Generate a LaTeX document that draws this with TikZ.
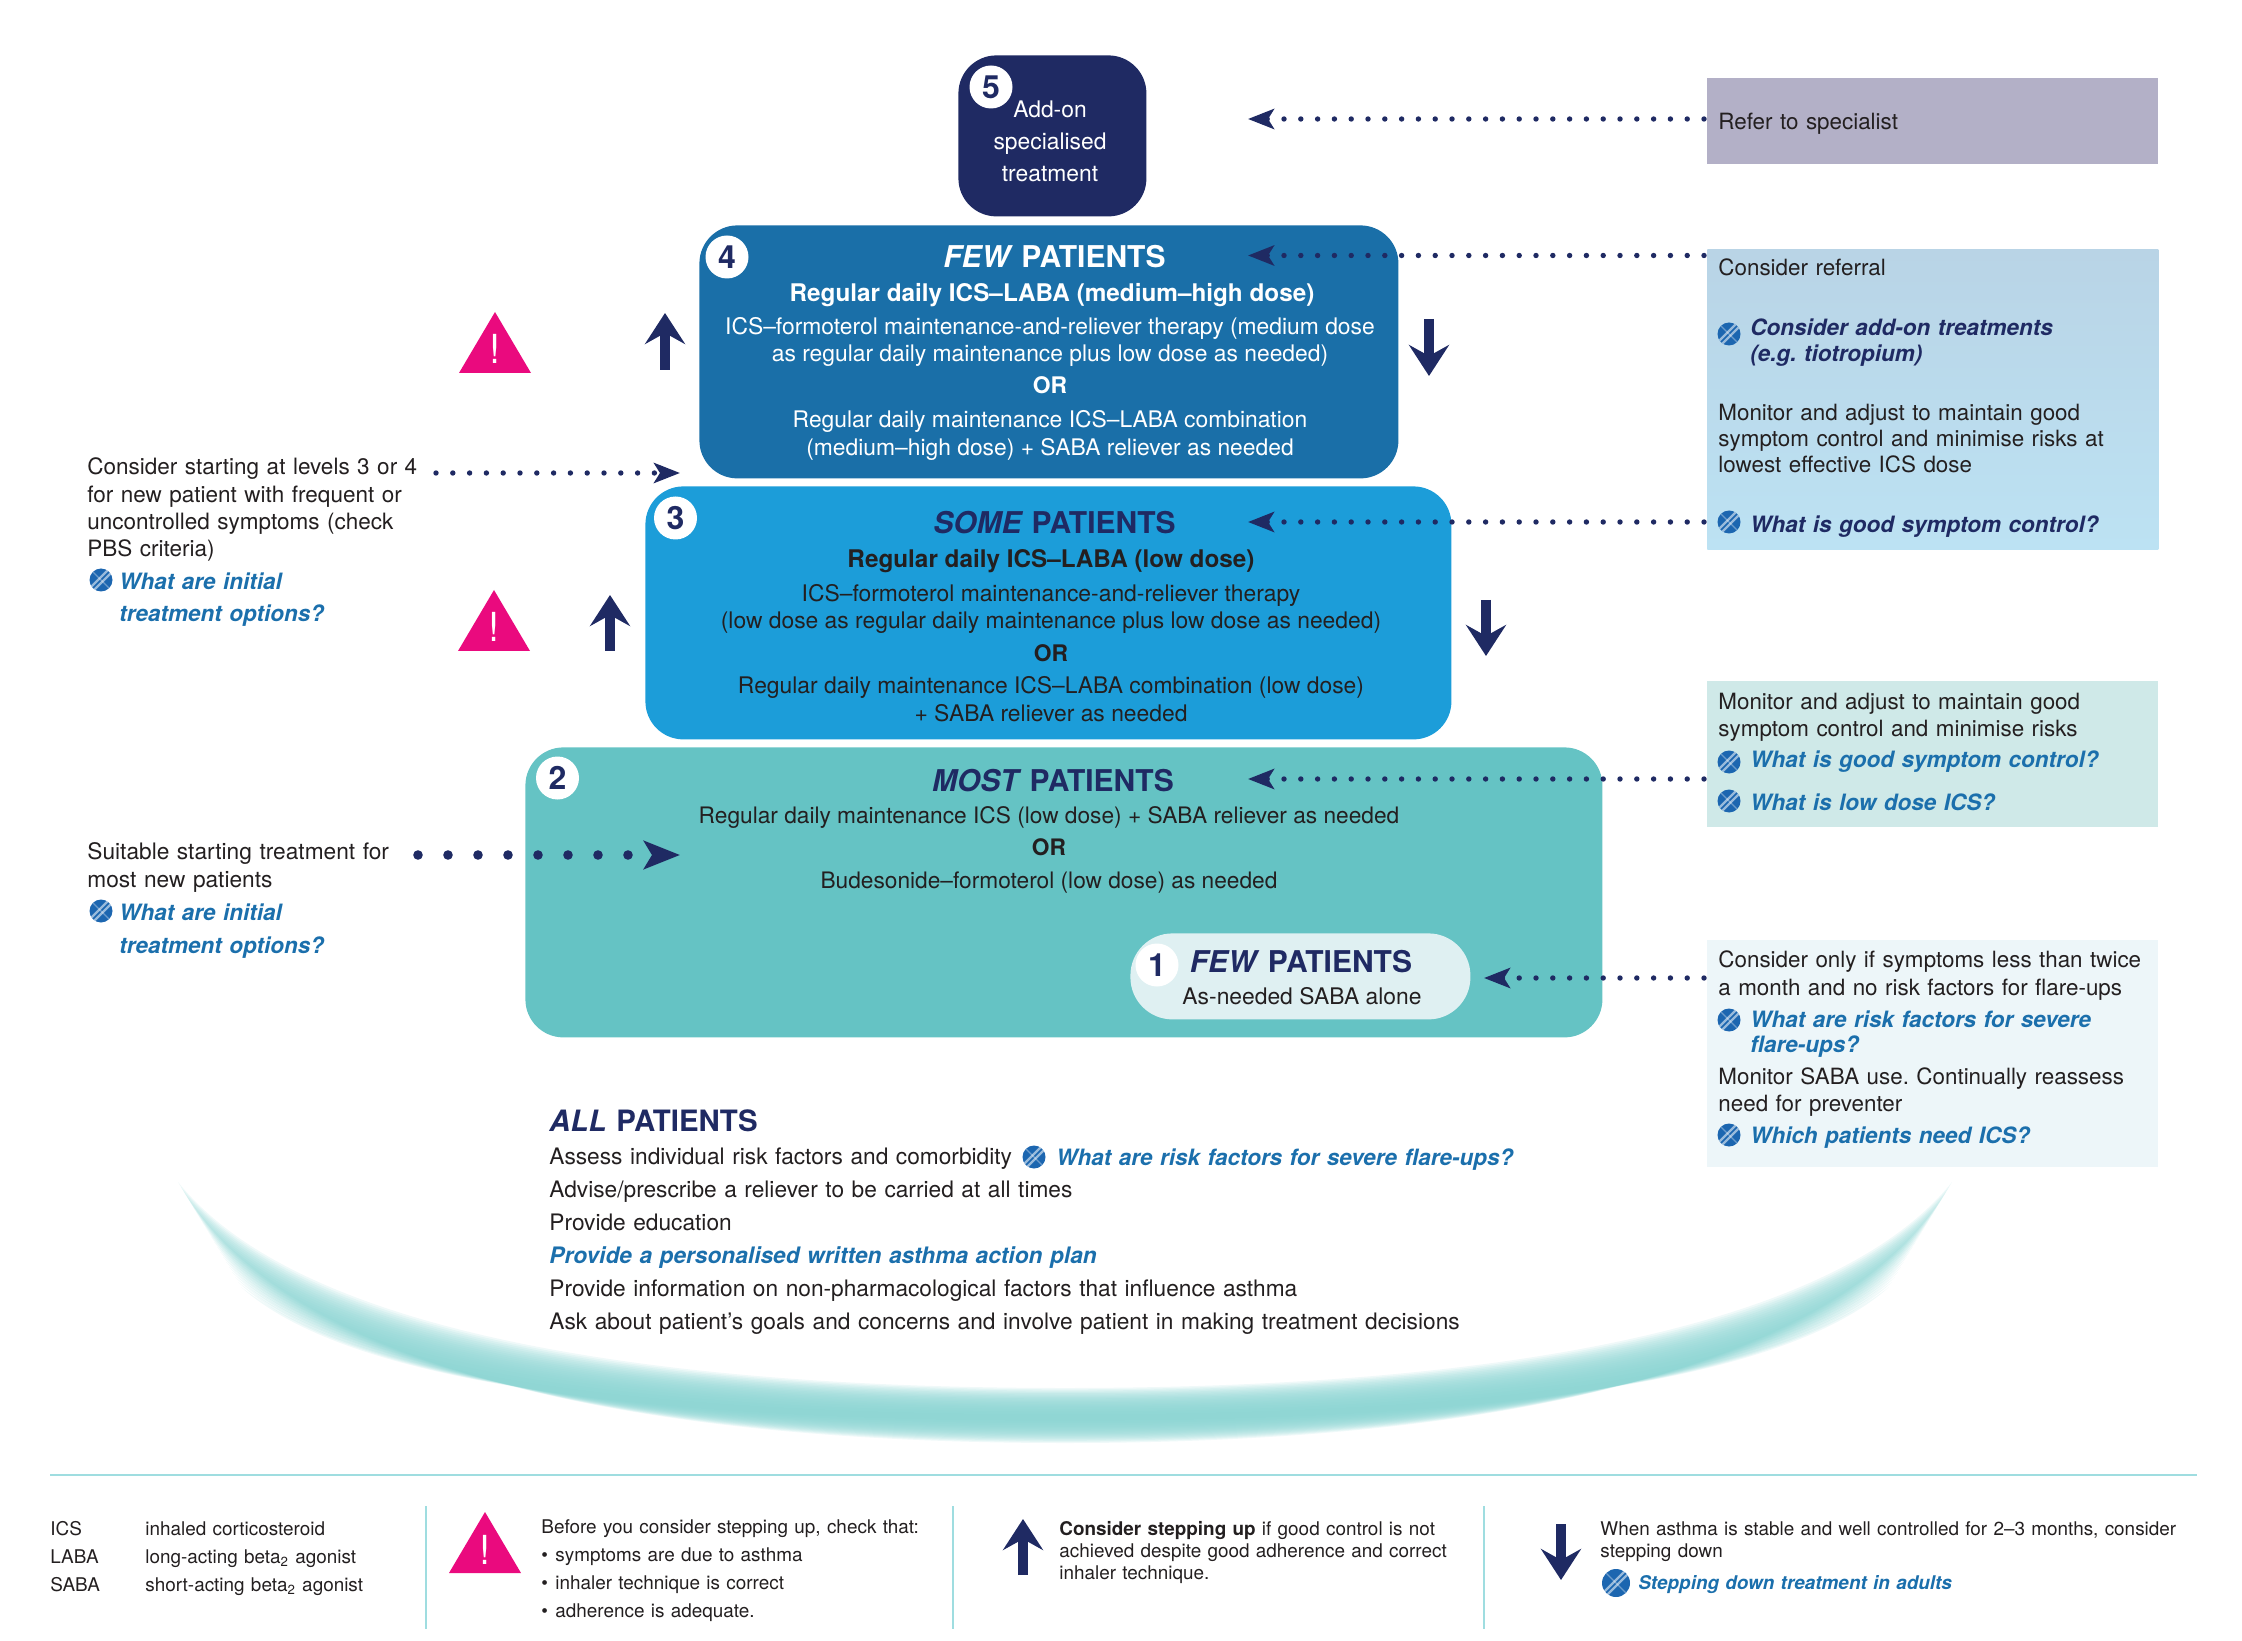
\documentclass[tikz,border=0pt]{standalone}
\usepackage{fontspec}
\setmainfont{TeX Gyre Heros}
\usetikzlibrary{arrows.meta,calc,positioning}
\definecolor{navy}{HTML}{1F2A63}
\definecolor{ink}{HTML}{231F20}
\definecolor{linkblue}{HTML}{1B6FAC}
\definecolor{globeblue}{HTML}{1C66B0}
\definecolor{alertpink}{HTML}{EA0A7E}
\definecolor{rule}{HTML}{9FDDE0}
\definecolor{level5}{HTML}{1F2A63}
\definecolor{level4}{HTML}{1A6FA8}
\definecolor{level3}{HTML}{1C9DD9}
\definecolor{level2}{HTML}{65C3C4}
\definecolor{level1}{HTML}{DFF0F2}
\definecolor{crescent}{HTML}{8AD4D2}
\tikzset{
	size/.style 2 args={minimum width=#1*0.5pt, minimum height=#2*0.5pt},
	stepbox/.style={rectangle, rounded corners=19pt, anchor=north west, inner sep=0pt},
	sidepanel/.style={rectangle, anchor=north west, inner sep=0pt},
	txt/.style={font=\fontsize{11.35}{#1}\selectfont, text=ink, text width=800pt,
		align=left, anchor=base west, inner sep=0pt},
	ptxt/.style={txt=#1, font=\fontsize{11.2}{#1}\selectfont},
	ctr/.style={font=\fontsize{11.42}{#1}\selectfont, text=ink, text width=400pt,
		align=flush center, anchor=base, inner sep=0pt},
	lnk/.style={txt=#1, font=\fontsize{11.25}{#1}\selectfont\bfseries\itshape, text=linkblue},
	small/.style={txt=#1, font=\fontsize{9.45}{#1}\selectfont},
	head/.style={ctr=18pt, font=\fontsize{15}{18}\selectfont\bfseries, text=navy},
	sub/.style={ctr=14pt, font=\fontsize{12.15}{14}\selectfont\bfseries},
	badge/.style={circle, fill=white, minimum size=21.5pt, inner sep=0pt, text=navy,
		font=\fontsize{16}{18}\selectfont\bfseries},
	globe/.style={circle, fill=globeblue, minimum size=11.5pt, inner sep=0pt,
		path picture={
			\draw[white, opacity=.55, line width=1.2pt] ([xshift=-1.5pt]path picture bounding box.south west) -- ([xshift=-1.5pt]path picture bounding box.north east);
			\draw[white, opacity=.55, line width=1.2pt] ([xshift=1.5pt]path picture bounding box.south west) -- ([xshift=1.5pt]path picture bounding box.north east);
			\draw[white, opacity=.35, line width=.6pt] (path picture bounding box.north west) -- (path picture bounding box.south east);
		}},
	dotar/.style={draw=navy, line width=2.7pt, line cap=round, dash pattern=on 0pt off 8.4pt,
		-{Stealth[length=13pt, width=10pt, inset=3pt]}},
	dotbig/.style={draw=navy, line width=4.8pt, line cap=round, dash pattern=on 0pt off 15pt,
		-{Stealth[length=18pt, width=14pt, inset=4pt]}},
	stepar/.style={draw=navy, line width=5pt, -{Stealth[length=15.5pt, width=20pt, inset=5.5pt]}},
	alert/.pic={
		\fill[alertpink] (-36,61) -- (0,0) -- (36,61) -- cycle;
		\node[anchor=base, inner sep=0pt, text=white, font=\fontsize{20}{20}\selectfont] (-bang) at (0,52) {!};
	}
}
\begin{document}
\frenchspacing
\begin{tikzpicture}[x=0.5pt,y=-0.5pt]
	\useasboundingbox (0,0) rectangle (2242,1641);
	% crescent under the list
	\foreach \k in {0,...,21} {
		\pgfmathsetmacro{\outer}{1443-\k*1.1}
		\pgfmathsetmacro{\inner}{1388+\k*1.3}
		\pgfmathsetmacro{\tipx}{178+\k*3}
		\pgfmathsetmacro{\tipy}{1182+\k*5}
		\pgfmathsetmacro{\tipr}{2130-\tipx}
		\pgfmathsetmacro{\outc}{\tipy+(\outer-\tipy)*0.74}
		\pgfmathsetmacro{\inc}{\tipy+(\inner-\tipy)*0.73}
		\fill[crescent, opacity=.13] (\tipx,\tipy)
			.. controls (\tipx+110,\outc) and (650,\outer) .. (1065,\outer)
			.. controls (1480,\outer) and (\tipr-110,\outc) .. (\tipr,\tipy)
			.. controls (\tipr-120,\inc) and (1480,\inner) .. (1065,\inner)
			.. controls (650,\inner) and (\tipx+120,\inc) .. (\tipx,\tipy) -- cycle;
	}
	% the five levels
	\node[stepbox, fill=level5, size={188}{161}] (box5) at (958,55) {};
	\node[stepbox, fill=level4, size={699}{253}] (box4) at (699,225) {};
	\node[stepbox, fill=level3, size={806}{253}] (box3) at (645,486) {};
	\node[stepbox, fill=level2, size={1077}{290}] (box2) at (525,747) {};
	\node[stepbox, fill=level1, size={340}{86}, rounded corners=21pt] (box1) at (1130,933) {};
	% panels on the right
	\node[sidepanel, fill={rgb,255:red,179;green,176;blue,199}, size={451}{86}] (refer) at (1707,78) {};
	\node[sidepanel, top color={rgb,255:red,185;green,212;blue,230}, bottom color={rgb,255:red,188;green,226;blue,243}, size={451}{300}] (referral) at (1707,249) {};
	\node[sidepanel, fill={rgb,255:red,207;green,233;blue,232}, size={451}{146}] (lowdose) at (1707,681) {};
	\node[sidepanel, fill={rgb,255:red,237;green,246;blue,249}, size={451}{227}] (onlyif) at (1707,940) {};
	% number badges
	\foreach \bx/\by/\bn in {991/87/5, 727/257/4, 675.5/518/3, 557.5/778/2, 1157/965/1}
		\node[badge] (num\bn) at (\bx,\by) {\bn};
	% text in the levels
	\node[ctr=16pt, text=white] (box5txt) at (1050,118) {Add-on\\specialised\\treatment};
	\node[head, text=white] (few4) at (1054.5,268) {\textit{FEW} PATIENTS};
	\node[sub, text=white] (sub4) at (1052,302) {Regular daily ICS–LABA (medium–high dose)};
	\node[ctr=13.75pt, text=white] (box4txt) at (1050,334.5) {ICS–formoterol maintenance-and-reliever therapy (medium dose\\as regular daily maintenance plus low dose as needed)\\[2.2pt]\textbf{OR}\\[3.25pt]Regular daily maintenance ICS–LABA combination\\(medium–high dose) + SABA reliever as needed};
	\node[head] (some3) at (1054.5,534) {\textit{SOME} PATIENTS};
	\node[sub] (sub3) at (1051,568) {Regular daily ICS–LABA (low dose)};
	\node[ctr=13.75pt] (box3txt) at (1051,601.5) {ICS–formoterol maintenance-and-reliever therapy\\(low dose as regular daily maintenance plus low dose as needed)\\[2.75pt]\textbf{OR}\\[2.25pt]Regular daily maintenance ICS–LABA combination (low dose)\\+ SABA reliever as needed};
	\node[head] (most2) at (1053,791) {\textit{MOST} PATIENTS};
	\node[ctr=16.25pt, font=\fontsize{11.35}{16.25}\selectfont] (box2txt) at (1049,823) {Regular daily maintenance ICS (low dose) + SABA reliever as needed\\\textbf{OR}\\Budesonide–formoterol (low dose) as needed};
	\node[head] (few1) at (1301,972) {\textit{FEW} PATIENTS};
	\node[ctr=13.75pt] (box1txt) at (1302,1004.5) {As-needed SABA alone};
	% text in the panels
	\node[ptxt=13pt] (refertxt) at (1718,130) {Refer to specialist};
	\node[ptxt=13pt] (referraltxt) at (1718,276) {Consider referral};
	\node[lnk=13pt, text=navy] (addon) at (1750,335.5) {Consider add-on treatments\\(e.g. tiotropium)};
	\node[ptxt=13pt] (adjust4) at (1718,421) {Monitor and adjust to maintain good\\symptom control and minimise risks at\\lowest effective ICS dose};
	\node[lnk=13pt, text=navy] (control4) at (1750,533) {What is good symptom control?};
	\node[ptxt=13.5pt] (adjust2) at (1718,709.5) {Monitor and adjust to maintain good\\symptom control and minimise risks};
	\node[lnk=21.5pt] (control2) at (1750,767.5) {What is good symptom control?\\What is low dose ICS?};
	\node[ptxt=14pt] (only1) at (1718,967.5) {Consider only if symptoms less than twice\\a month and no risk factors for flare-ups};
	\node[lnk=12.75pt] (risk1) at (1750,1027) {What are risk factors for severe\\flare-ups?};
	\node[ptxt=13.5pt] (saba1) at (1718,1084.5) {Monitor SABA use. Continually reassess\\need for preventer};
	\node[lnk=13pt] (which1) at (1750,1143.5) {Which patients need ICS?};
	% text on the left
	\node[txt=13.65pt, font=\fontsize{11.25}{13.65}\selectfont] (startL) at (87,475) {Consider starting at levels 3 or 4\\for new patient with frequent or\\uncontrolled symptoms (check\\PBS criteria)};
	\node[lnk=16pt] (initialL) at (119,590) {What are initial\\treatment options?};
	\node[txt=14pt] (suitL) at (87,859.5) {Suitable starting treatment for\\most new patients};
	\node[lnk=16.5pt] (initialM) at (119,920) {What are initial\\treatment options?};
	% all patients
	\node[head, text width=800pt, align=left, anchor=base west, font=\fontsize{14.7}{18}\selectfont\bfseries] (allhead) at (549,1131) {\textit{ALL} PATIENTS};
	\node[txt=16.45pt] (alltxt) at (549,1164.5) {Assess individual risk factors and comorbidity\\Advise/prescribe a reliever to be carried at all times\\Provide education\\{\color{linkblue}\bfseries\itshape Provide a personalised written asthma action plan}\\Provide information on non-pharmacological factors that influence asthma\\Ask about patient’s goals and concerns and involve patient in making treatment decisions};
	\node[lnk=13pt] (allrisk) at (1056,1165) {What are risk factors for severe flare-ups?};
	% small globes
	\foreach \gx/\gy [count=\i] in {1729/334, 1729/522, 1729/762, 1729/801, 1729/1020, 1729/1135, 101/580, 101/911, 1034/1157}
		\node[globe] (globe\i) at (\gx,\gy) {};
	% dotted connectors
	\coordinate (tip5) at (1248,119);
	\coordinate (tip4) at (1248,255.5);
	\coordinate (tip3) at (1248,522);
	\coordinate (tip2) at (1248,779);
	\coordinate (tip1) at (1484,978);
	\draw[dotar, shorten <=1.5pt] (refer.west |- tip5) -- (tip5);
	\draw[dotar, shorten <=1.5pt] (referral.west |- tip4) -- (tip4);
	\draw[dotar, shorten <=1.5pt] (referral.west |- tip3) -- (tip3);
	\draw[dotar, shorten <=1.5pt] (lowdose.west |- tip2) -- (tip2);
	\draw[dotar, shorten <=1.5pt] (onlyif.west |- tip1) -- (tip1);
	\coordinate (fromL) at (436,473);
	\coordinate (toL) at (680,473);
	\draw[dotar] (fromL) -- (toL);
	\coordinate (fromM) at (418,855);
	\coordinate (toM) at (680,855);
	\draw[dotbig] (fromM) -- (toM);
	% step up and step down
	\foreach \ax/\ay/\bx/\by/\an in {665/370/665/313/up4, 610/651/610/595/up3, 1429/319/1429/376/down4, 1486/600/1486/656/down3, 1023/1575/1023/1519/upkey, 1561/1524/1561/1580/downkey} {
		\coordinate (\an a) at (\ax,\ay);
		\coordinate (\an b) at (\bx,\by);
		\draw[stepar] (\an a) -- (\an b);
	}
	\pic (alert4) at (495,312) {alert};
	\pic (alert3) at (494,590) {alert};
	% key
	\coordinate (ruleL) at (50,1475);
	\coordinate (ruleR) at (2197,1475);
	\draw[rule, line width=1pt] (ruleL) -- (ruleR);
	\foreach \sx [count=\i] in {426,953,1484} {
		\coordinate (sepa\i) at (\sx,1506);
		\coordinate (sepb\i) at (\sx,1629);
		\draw[rule, line width=.6pt] (sepa\i) -- (sepb\i);
	}
	\node[small=14pt] (keyabbr) at (50,1535) {ICS\\LABA\\SABA};
	\node[small=14pt] (keywords) at (145,1535) {inhaled corticosteroid\\long-acting beta\textsubscript{2} agonist\\short-acting beta\textsubscript{2} agonist};
	\pic (alertkey) at (485,1512) {alert};
	\node[small=14pt] (keycheck) at (541,1533) {Before you consider stepping up, check that:\\\makebox[7pt][l]{\textbullet}symptoms are due to asthma\\\makebox[7pt][l]{\textbullet}inhaler technique is correct\\\makebox[7pt][l]{\textbullet}adherence is adequate.};
	\node[small=11pt] (keyup) at (1059,1535) {\textbf{Consider stepping up} if good control is not\\achieved despite good adherence and correct\\inhaler technique.};
	\node[small=11pt] (keydown) at (1600,1535) {When asthma is stable and well controlled for 2–3 months, consider\\stepping down};
	\node[globe, minimum size=14pt] (globekey) at (1616,1583) {};
	\node[small=11pt, font=\fontsize{9.45}{11}\selectfont\bfseries\itshape, text=linkblue] (keylink) at (1638,1589) {Stepping down treatment in adults};
\end{tikzpicture}
\end{document}
